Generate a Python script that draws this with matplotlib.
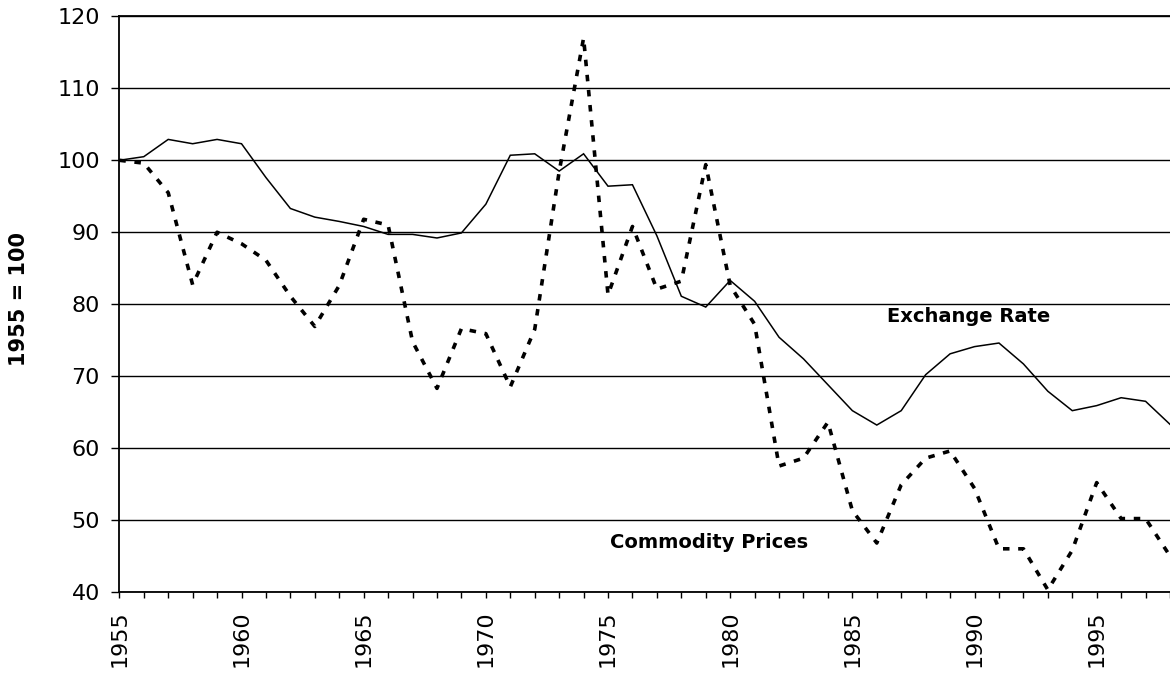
import matplotlib.pyplot as plt
import numpy as np

years = list(range(1955, 1999))

exchange_rate = [100.0, 100.5, 102.9, 102.3, 102.9, 102.3, 97.6, 93.3, 92.1, 91.5,
                 90.8, 89.7, 89.7, 89.2, 89.9, 93.9, 100.7, 100.9, 98.5, 100.9,
                 96.4, 96.6, 89.5, 81.1, 79.6, 83.3, 80.4, 75.4, 72.4, 68.8,
                 65.2, 63.2, 65.2, 70.2, 73.1, 74.1, 74.6, 71.7, 67.9, 65.2,
                 65.9, 67.0, 66.5, 63.3]

commodity_prices = [100.0, 99.6, 95.5, 82.7, 90.0, 88.4, 86.1, 81.1, 76.9, 82.6,
                    91.8, 91.0, 74.8, 68.3, 76.6, 75.9, 68.5, 76.5, 98.4, 117.0,
                    81.3, 90.8, 82.1, 83.2, 99.4, 82.6, 77.2, 57.5, 58.6, 63.6,
                    51.3, 46.8, 54.9, 58.6, 59.6, 54.4, 46.0, 46.0, 40.3, 45.8,
                    55.2, 50.2, 50.2, 45.0]

fig = plt.figure(figsize=(11.7, 6.77), dpi=100)
ax = fig.add_axes([0.102, 0.1256, 0.898, 0.8502])

ax.plot(years, exchange_rate, color='black', linewidth=1.1, solid_joinstyle='miter')
ax.plot(years, commodity_prices, color='black', linewidth=2.6,
        linestyle=(0, (1.8, 2.4)), dash_capstyle='butt')

ax.set_xlim(1955, 1998)
ax.set_ylim(40, 120)
ax.set_yticks(np.arange(40, 121, 10))
ax.set_xticks(years)
ax.set_xticklabels([str(y) if y % 5 == 0 else '' for y in years], rotation=90, fontsize=16)
ax.tick_params(axis='y', labelsize=16, length=6, width=1, direction='out', pad=8)
ax.tick_params(axis='x', length=4, width=1, direction='out', pad=9)

ax.grid(axis='y', color='black', linewidth=1)
ax.set_axisbelow(True)
for side in ['top', 'right']:
    ax.spines[side].set_visible(False)
ax.spines['left'].set_linewidth(1.3)
ax.spines['bottom'].set_linewidth(1.3)
ax.axhline(120, color='black', linewidth=1.3, clip_on=False)

ax.text(1986.4, 78.3, 'Exchange Rate', fontsize=14, fontweight='bold', ha='left', va='center')
ax.text(1975.1, 46.9, 'Commodity Prices', fontsize=14, fontweight='bold', ha='left', va='center')

fig.text(0.016, 0.558, '1955 = 100', rotation=90, fontsize=15, fontweight='bold',
         ha='center', va='center')

plt.savefig('out.png')
